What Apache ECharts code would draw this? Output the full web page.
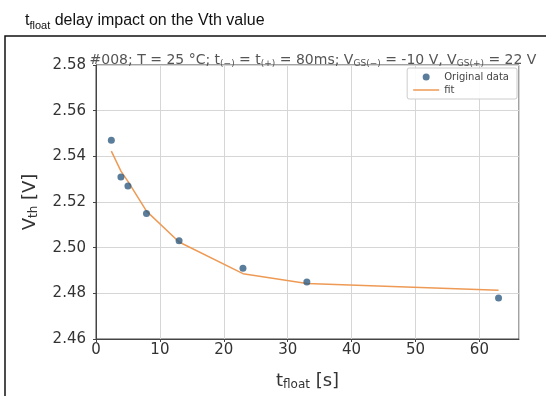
<!DOCTYPE html>
<html>
<head>
<meta charset="utf-8">
<script src="https://cdn.jsdelivr.net/npm/echarts@6/dist/echarts.min.js"></script>
<style>html,body{margin:0;padding:0;background:#fff}#c{width:546px;height:396px}</style>
</head>
<body>
<div id="c"></div>
<script>
// Data
var tFloat = [2.4, 3.9, 5.0, 7.9, 13.0, 23.0, 33.0, 63.0];
var vthOriginal = [2.547, 2.531, 2.527, 2.515, 2.503, 2.491, 2.485, 2.478];
var vthFit = [2.5423, 2.5335, 2.529, 2.516, 2.5025, 2.4886, 2.4843, 2.4814];
var xTicks = [0, 10, 20, 30, 40, 50, 60];
var yTicks = [2.46, 2.48, 2.50, 2.52, 2.54, 2.56, 2.58];

var font = '"Liberation Sans", Arial, sans-serif';
var dv = '"DejaVu Sans", sans-serif';
var chart = echarts.init(document.getElementById('c'), null, {renderer: 'canvas'});

function pairs(xs, ys) { return xs.map(function (x, i) { return [x, ys[i]]; }); }

var option = {
  animation: false,
  backgroundColor: '#fff',
  title: [{
    left: 20, top: 6,
    text: '{m|t}{s|float}{m| delay impact on the Vth value}',
    textStyle: {
      rich: {
        m: {fontFamily: font, fontSize: 16, fontWeight: 'normal', color: '#111'},
        s: {fontFamily: font, fontSize: 11, fontWeight: 'normal', color: '#111', padding: [9, 0, 0, 0]}
      }
    }
  }, {
    left: 308, top: 48, textAlign: 'center',
    text: '{m|#008; T = 25 °C; t}{s|(−)}{m| = t}{s|(+)}{m| = 80ms; V}{s|GS(−)}{m| = -10 V, V}{s|GS(+)}{m| = 22 V}',
    textStyle: {
      rich: {
        m: {fontFamily: dv, fontSize: 14, fontWeight: 'normal', color: '#555'},
        s: {fontFamily: dv, fontSize: 9, fontWeight: 'normal', color: '#555', padding: [6, 0, 0, 0]}
      }
    }
  }],
  graphic: [{
    type: 'polyline', silent: true,
    shape: {points: [[5, 396], [5, 36], [546, 36]]},
    style: {stroke: '#111', lineWidth: 1.5, fill: null}
  }],
  legend: {
    right: 29, top: 68,
    orient: 'vertical',
    itemGap: 3,
    itemWidth: 26, itemHeight: 7,
    backgroundColor: 'rgba(255,255,255,0.9)',
    borderColor: '#ccc', borderWidth: 1, borderRadius: 2,
    padding: [4, 8, 4, 6],
    textStyle: {fontFamily: dv, fontSize: 10, color: '#444'},
    data: [
      {name: 'Original data', icon: 'circle'},
      {name: 'fit', icon: 'path://M0,0h26v1.5h-26z'}
    ]
  },
  grid: {
    left: 96, right: 27, top: 65, bottom: 55,
    show: true, borderColor: '#444', borderWidth: 1, backgroundColor: '#fff'
  },
  xAxis: {
    type: 'value', min: 0, max: 66.2, interval: 10,
    name: '{m|t}{s|float}{m| [s]}',
    nameLocation: 'middle', nameGap: 32,
    nameTextStyle: {
      rich: {
        m: {fontFamily: dv, fontSize: 18, color: '#333'},
        s: {fontFamily: dv, fontSize: 12, color: '#333', padding: [8, 0, 0, 0]}
      }
    },
    axisLine: {show: true, lineStyle: {color: '#444'}},
    axisTick: {show: true, length: 3, lineStyle: {color: '#444'}},
    axisLabel: {
      show: true, showMaxLabel: false, margin: 4,
      fontFamily: dv, fontSize: 15, color: '#333',
      formatter: function (v) { return xTicks.indexOf(v) >= 0 ? String(v) : ''; }
    },
    splitLine: {show: true, lineStyle: {color: '#d6d6d6', width: 1}}
  },
  yAxis: {
    type: 'value', min: yTicks[0], max: yTicks[yTicks.length - 1], interval: 0.02,
    name: '{m|V}{s|th}{m| [V]}',
    nameLocation: 'middle', nameGap: 56, nameRotate: 90,
    nameTextStyle: {
      rich: {
        m: {fontFamily: dv, fontSize: 18, color: '#333'},
        s: {fontFamily: dv, fontSize: 12, color: '#333', padding: [8, 0, 0, 0]}
      }
    },
    axisLine: {show: true, lineStyle: {color: '#444'}},
    axisTick: {show: true, length: 3, lineStyle: {color: '#444'}},
    axisLabel: {
      margin: 10, fontFamily: dv, fontSize: 15, color: '#333',
      formatter: function (v) { return v.toFixed(2); }
    },
    splitLine: {show: true, lineStyle: {color: '#d6d6d6', width: 1}}
  },
  series: [{
    name: 'fit', type: 'line',
    data: pairs(tFloat, vthFit),
    showSymbol: false, symbol: 'none',
    lineStyle: {color: '#ee9a55', width: 1.5},
    itemStyle: {color: '#ee9a55'},
    z: 2
  }, {
    name: 'Original data', type: 'scatter',
    data: pairs(tFloat, vthOriginal),
    symbolSize: 7,
    itemStyle: {color: '#2f5c82'},
    z: 3
  }]
};
chart.setOption(option);
</script>
</body>
</html>
